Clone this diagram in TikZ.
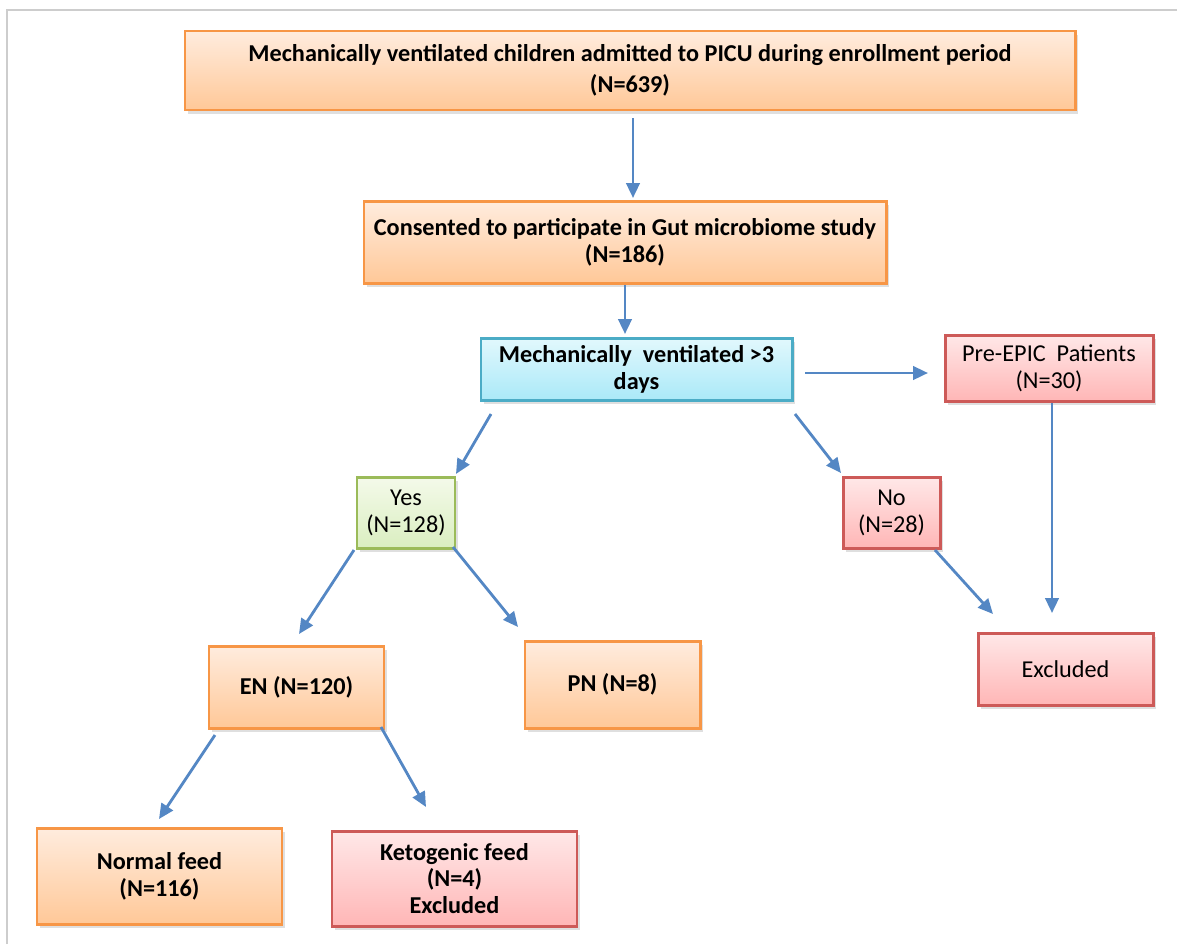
\documentclass[tikz,border=0pt]{standalone}
\usepackage{fontspec}
\setmainfont{Carlito}
\usetikzlibrary{arrows.meta,shadows}
\definecolor{arrblue}{RGB}{84,135,196}
\definecolor{oline}{RGB}{247,150,70}
\definecolor{otop}{RGB}{255,236,222}
\definecolor{obot}{RGB}{255,200,152}
\definecolor{rline}{RGB}{205,90,88}
\definecolor{rtop}{RGB}{255,232,232}
\definecolor{rbot}{RGB}{255,182,182}
\definecolor{cline}{RGB}{75,172,198}
\definecolor{ctop}{RGB}{226,248,253}
\definecolor{cbot}{RGB}{170,233,248}
\definecolor{gline}{RGB}{155,187,89}
\definecolor{gtop}{RGB}{244,250,234}
\definecolor{gbot}{RGB}{218,238,192}
\definecolor{framegray}{RGB}{205,205,205}
\tikzset{
  sz/.style 2 args={minimum width=#1*0.02cm, minimum height=#2*0.02cm},
  basebox/.style={rectangle, line width=1.7pt, inner sep=0pt, align=center,
    font=\fontsize{13.8}{15.3}\selectfont,
    drop shadow={opacity=0.25, shadow xshift=0.06cm, shadow yshift=-0.08cm}},
  obox/.style={basebox, draw=oline, top color=otop, bottom color=obot},
  rbox/.style={basebox, draw=rline, top color=rtop, bottom color=rbot},
  cbox/.style={basebox, draw=cline, top color=ctop, bottom color=cbot},
  gbox/.style={basebox, draw=gline, top color=gtop, bottom color=gbot},
  arr/.style={draw=arrblue, line width=1.6pt, -{Triangle[length=0.3cm,width=0.27cm]}},
}
\begin{document}
\begin{tikzpicture}[x=0.02cm,y=-0.02cm]
\useasboundingbox (0,0) rectangle (1177,944);
\draw[framegray, line width=1.7pt] (7,944) -- (7,10) -- (1177,10);

\node[obox, sz={890}{79}] (top) at (630,70.5)
  {\bfseries Mechanically ventilated children admitted to PICU during enrollment period\\[2.3pt]\bfseries (N=639)};
\node[obox, sz={522}{82}] (cons) at (625,242)
  {\bfseries Consented to participate in Gut microbiome study\\\bfseries (N=186)};
\node[cbox, sz={311}{62}] (mv) at (636.5,369)
  {\bfseries Mechanically\ \ ventilated >3\\\bfseries days};
\node[rbox, sz={208}{66}] (pre) at (1049,368)
  {Pre-EPIC\ \ Patients\\(N=30)};
\node[gbox, sz={98}{71}] (yes) at (406,512.5)
  {Yes\\(N=128)};
\node[rbox, sz={97}{71}] (no) at (891.5,512.5)
  {No\\(N=28)};
\node[obox, sz={175}{82}] (en) at (296.5,687)
  {\bfseries EN (N=120)};
\node[obox, sz={175}{87}] (pn) at (612.5,684.5)
  {\bfseries PN (N=8)};
\node[rbox, sz={175}{72}] (exc) at (1065.5,669)
  {Excluded};
\node[obox, sz={245}{96}] (normal) at (159.5,876)
  {\bfseries Normal feed\\\bfseries (N=116)};
\node[rbox, sz={245}{95}] (keto) at (454.5,878.5)
  {\bfseries Ketogenic feed\\\bfseries (N=4)\\\bfseries Excluded};

\coordinate (a1s) at (633,118);   \coordinate (a1e) at (633,198);
\coordinate (a2s) at (625,285);   \coordinate (a2e) at (625,334);
\coordinate (a3s) at (805,373);   \coordinate (a3e) at (928,373);
\coordinate (a4s) at (491,414);   \coordinate (a4e) at (456,474);
\coordinate (a5s) at (795,414);   \coordinate (a5e) at (841,473);
\coordinate (a6s) at (1052,403);  \coordinate (a6e) at (1052,613);
\coordinate (a7s) at (935,550);   \coordinate (a7e) at (993,614);
\coordinate (a8s) at (354,550);   \coordinate (a8e) at (299,634);
\coordinate (a9s) at (453,547);   \coordinate (a9e) at (518,627);
\coordinate (a10s) at (215,735);  \coordinate (a10e) at (159,819);
\coordinate (a11s) at (381,727);  \coordinate (a11e) at (426,807);

\draw[arr] (a1s) -- (a1e);
\draw[arr] (a2s) -- (a2e);
\draw[arr] (a3s) -- (a3e);
\draw[arr] (a4s) -- (a4e);
\draw[arr] (a5s) -- (a5e);
\draw[arr] (a6s) -- (a6e);
\draw[arr] (a7s) -- (a7e);
\draw[arr] (a8s) -- (a8e);
\draw[arr] (a9s) -- (a9e);
\draw[arr] (a10s) -- (a10e);
\draw[arr] (a11s) -- (a11e);
\end{tikzpicture}
\end{document}
